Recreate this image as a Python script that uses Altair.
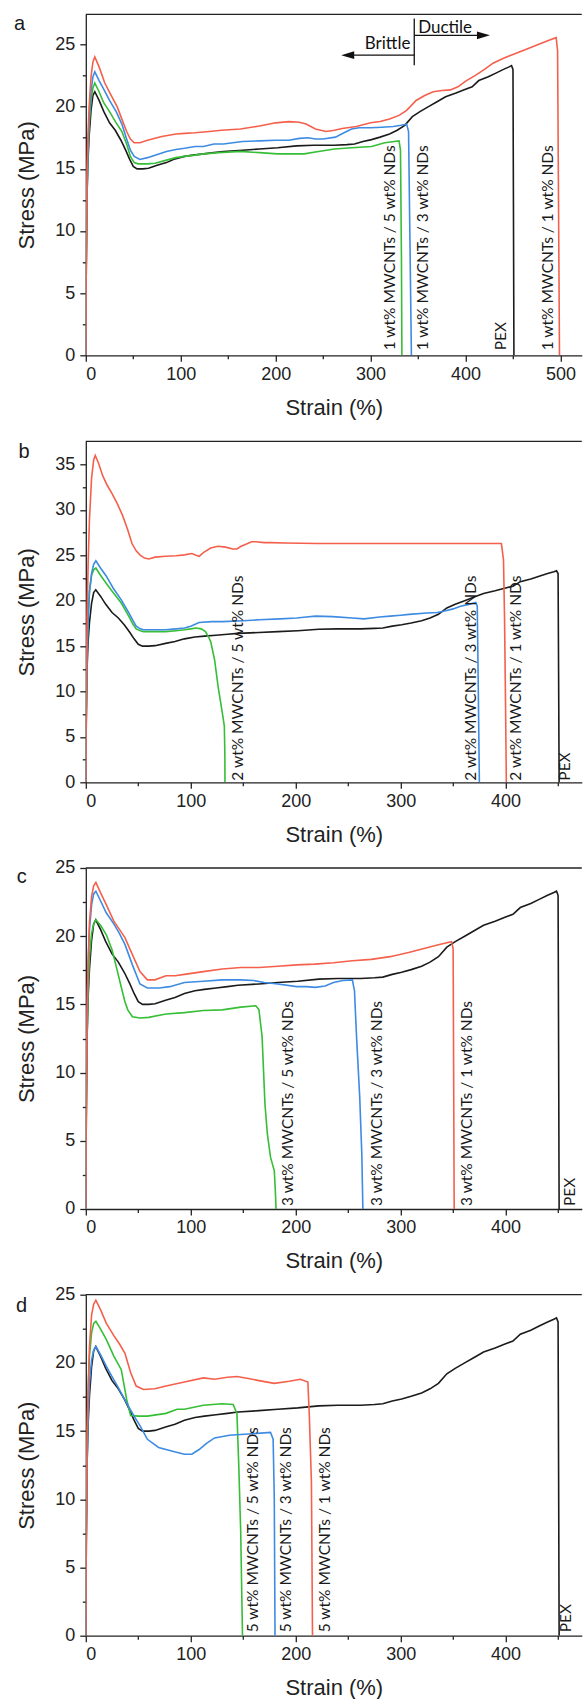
import altair as alt
import pandas as pd

RED = "#f4604c"
BLUE = "#3d8be2"
GREEN = "#36be36"
BLACK = "#1b1b1b"

SERIES = ["pex", "green", "blue", "red"]
COLORS = [BLACK, GREEN, BLUE, RED]

# ---------------- PEX (same reference curve in every panel) ----------------
pex_x = [0, 0.5, 1.2, 2.2, 3.5, 5.5, 7.5, 9.5, 14, 19, 25, 31, 37, 42, 46, 50, 54, 60, 66, 76, 85,
         94, 104, 113, 124, 135, 145, 165, 183, 202, 222, 240, 262, 275, 283, 292, 301, 310, 320,
         328, 336, 344, 352, 361, 370, 379, 390, 400, 407, 414, 424, 432, 440, 446, 448.5, 450,
         450.5, 451]
pex_y = [0, 7, 12.5, 15.5, 17.6, 19.7, 20.9, 21.2, 20.5, 19.6, 18.7, 18.1, 17.3, 16.5, 15.8, 15.2,
         15.0, 15.0, 15.05, 15.3, 15.5, 15.8, 16.0, 16.1, 16.2, 16.3, 16.4, 16.5, 16.6, 16.7, 16.85,
         16.9, 16.9, 16.95, 17.0, 17.2, 17.35, 17.55, 17.8, 18.1, 18.5, 19.2, 19.6, 20.0, 20.4, 20.8,
         21.1, 21.4, 21.6, 22.1, 22.4, 22.7, 23.0, 23.2, 23.3, 23.0, 12, 0]

# ---------------- panel a : 1 wt% MWCNTs ----------------
a_red_x = [0, 0.5, 1.2, 2.2, 3.5, 5.5, 7.5, 9.5, 14, 20, 26, 33, 38, 43, 47, 51, 57, 65, 80, 95, 104,
           115, 130, 143, 163, 183, 200, 214, 225, 232, 242, 253, 262, 270, 285, 300, 310, 320, 330,
           338, 348, 357, 366, 375, 384, 392, 401, 410, 420, 429, 440, 450, 460, 470, 480, 490,
           495.5, 497, 498, 499]
a_red_y = [0, 8, 14, 17.5, 20, 22.4, 23.6, 24.0, 23.2, 21.9, 21.0, 20.0, 19.0, 18.0, 17.4, 17.1, 17.1,
           17.3, 17.6, 17.8, 17.85, 17.9, 18.0, 18.1, 18.2, 18.45, 18.7, 18.8, 18.75, 18.6, 18.2,
           18.0, 18.1, 18.25, 18.4, 18.7, 18.8, 19.0, 19.3, 19.7, 20.5, 20.9, 21.2, 21.3, 21.35,
           21.6, 22.1, 22.5, 23.0, 23.5, 23.9, 24.2, 24.5, 24.8, 25.1, 25.4, 25.55, 24.5, 12, 0]
a_blue_x = [0, 0.5, 1.2, 2.2, 3.5, 5.5, 7.5, 9.5, 14, 19, 25, 32, 38, 43, 47, 51, 57, 65, 73, 85, 95,
            104, 115, 124, 135, 145, 165, 183, 200, 214, 225, 234, 242, 250, 263, 272, 280, 288,
            300, 312, 324, 332, 338, 340, 341.5, 343]
a_blue_y = [0, 7.5, 13, 16.5, 19, 21.2, 22.4, 22.8, 22.1, 21.4, 20.5, 19.6, 18.6, 17.4, 16.5, 16.0,
            15.75, 15.9, 16.1, 16.4, 16.55, 16.65, 16.8, 16.8, 17.0, 17.0, 17.2, 17.25, 17.3, 17.3,
            17.45, 17.5, 17.4, 17.4, 17.55, 17.9, 18.2, 18.3, 18.3, 18.35, 18.4, 18.5, 18.6, 18.0,
            9, 0]
a_green_x = [0, 0.5, 1.2, 2.2, 3.5, 5.5, 7.5, 9.5, 14, 19, 25, 32, 38, 43, 47, 51, 55, 65, 73, 85,
             95, 104, 115, 124, 140, 163, 183, 202, 220, 230, 245, 262, 280, 301, 315, 325, 330,
             331.5, 332.5, 333]
a_green_y = [0, 7, 12.5, 16, 18.5, 20.5, 21.5, 21.9, 21.2, 20.3, 19.6, 18.7, 18.0, 17.0, 16.0, 15.5,
             15.4, 15.4, 15.45, 15.7, 15.9, 16.0, 16.1, 16.2, 16.3, 16.4, 16.3, 16.2, 16.2, 16.2,
             16.4, 16.6, 16.7, 16.8, 17.1, 17.2, 17.25, 16.5, 8, 0]
a_label_x = [320, 355.6, 437.6, 487]
a_label_text = ["1 wt% MWCNTs / 5 wt% NDs", "1 wt% MWCNTs / 3 wt% NDs", "PEX",
                "1 wt% MWCNTs / 1 wt% NDs"]

# Brittle / Ductile annotation (panel a)
div_x = [346]
div_y = [23.33]
div_y2 = [27.1]
arrow_x = [346, 346]
arrow_x2 = [419, 276]
arrow_y = [25.74, 24.14]
head_x = [418.9, 275.9]
head_y = [25.74, 24.14]
head_dir = ["right", "left"]
note_text = ["Ductile", "Brittle"]
note_x = [350.2, 342.0]
note_y = [26.36, 25.08]
note_align = ["left", "right"]

# ---------------- panel b : 2 wt% MWCNTs ----------------
b_red_x = [0, 0.5, 1.2, 2.2, 3.5, 5.5, 7.5, 9, 12, 16, 20, 25, 30, 35, 40, 44, 48, 52, 56, 60, 66,
           76, 86, 94, 101, 105, 108, 112, 119, 126, 133, 140, 144, 148, 152, 158, 162, 170, 176,
           190, 220, 260, 300, 340, 380, 396, 398, 399, 400, 400.7]
b_red_y = [0, 10, 18, 24, 29, 33.5, 35.5, 36.0, 35.2, 33.8, 32.8, 31.8, 30.7, 29.4, 27.8, 26.3, 25.5,
           25.0, 24.7, 24.6, 24.8, 24.9, 24.95, 25.05, 25.2, 25.0, 24.9, 25.3, 25.8, 26.0, 25.9,
           25.7, 25.7, 26.0, 26.2, 26.5, 26.5, 26.4, 26.4, 26.35, 26.3, 26.3, 26.3, 26.3, 26.3,
           26.3, 24.5, 18, 8, 0]
b_blue_x = [0, 0.5, 1.2, 2.2, 3.5, 5.5, 7.5, 9.6, 14, 19.6, 26, 33.8, 40.9, 45, 48, 52, 55, 65, 76,
            86, 94, 100, 108, 120, 130, 150, 165, 185, 201, 210, 219, 235, 254, 265, 280, 290, 300,
            308, 325, 335, 343, 350, 357, 365, 371.6, 373, 374, 375]
b_blue_y = [0, 8, 14, 18, 21, 23, 24, 24.4, 23.6, 22.7, 21.4, 20.1, 18.7, 17.8, 17.2, 16.9, 16.8,
            16.8, 16.8, 16.9, 17.0, 17.2, 17.6, 17.7, 17.7, 17.8, 17.9, 18.0, 18.1, 18.2, 18.3,
            18.25, 18.1, 18.0, 18.2, 18.3, 18.4, 18.5, 18.65, 18.7, 18.9, 19.1, 19.4, 19.6, 19.8,
            19.4, 10, 0]
b_green_x = [0, 0.5, 1.2, 2.2, 3.5, 5.5, 7.5, 9.6, 14, 19.6, 26, 33.8, 40.9, 45, 48, 52, 55, 65, 76,
             86, 94, 100, 105, 110, 114, 117, 119, 122.7, 126, 130, 132, 132.5, 132.6]
b_green_y = [0, 8, 14, 18, 21, 22.8, 23.4, 23.6, 22.8, 21.9, 20.9, 19.75, 18.3, 17.4, 16.9, 16.7,
             16.6, 16.6, 16.6, 16.7, 16.8, 16.9, 17.0, 16.9, 16.6, 16.0, 15.5, 13.5, 10.6, 7.7, 6.2,
             3, 0]
b_label_x = [144.7, 367, 409.6, 457]
b_label_text = ["2 wt% MWCNTs / 5 wt% NDs", "2 wt% MWCNTs / 3 wt% NDs",
                "2 wt% MWCNTs / 1 wt% NDs", "PEX"]

# ---------------- panel c : 3 wt% MWCNTs ----------------
c_red_x = [0, 0.5, 1.2, 2.2, 3.5, 5.5, 7.5, 9.6, 14, 19.6, 26.7, 32, 37.3, 44.4, 51.6, 58.7, 65.8,
           76.4, 85, 94, 112, 130, 147.6, 165, 183, 201, 218, 236, 254, 272, 290, 307.6, 325, 335,
           343, 348.4, 350, 350.5, 351]
c_red_y = [0, 8, 14, 18, 21, 22.9, 23.7, 23.95, 23.2, 22.3, 21.1, 20.5, 19.9, 18.65, 17.4, 16.8,
           16.8, 17.1, 17.1, 17.2, 17.4, 17.6, 17.7, 17.7, 17.8, 17.9, 17.95, 18.05, 18.2, 18.3,
           18.5, 18.8, 19.15, 19.35, 19.5, 19.6, 19.1, 10, 0]
c_blue_x = [0, 0.5, 1.2, 2.2, 3.5, 5.5, 7.5, 9.6, 14, 19.6, 26.7, 32, 37.3, 44.4, 51.6, 58.7, 70,
            80, 94, 112, 130, 147.6, 160, 170, 183, 201, 210, 218.7, 228, 236, 245, 254, 256, 258,
            261, 263, 264]
c_blue_y = [0, 8, 14, 18, 20.5, 22.3, 23.1, 23.3, 22.6, 21.7, 20.9, 20.2, 19.4, 17.9, 16.5, 16.2,
            16.2, 16.3, 16.6, 16.7, 16.8, 16.8, 16.75, 16.6, 16.5, 16.3, 16.3, 16.25, 16.35, 16.6,
            16.75, 16.8, 16.0, 12.6, 8.2, 4, 0]
c_green_x = [0, 0.5, 1.2, 2.2, 3.5, 5.5, 7.5, 9.6, 14, 19.6, 25, 30.2, 34, 37.3, 40, 44.4, 51.6, 60,
             76.4, 94, 112, 130, 147.6, 162, 165, 168, 170.7, 173, 176, 179.6, 180.5, 181.3]
c_green_y = [0, 7, 12.5, 16, 18.5, 20.2, 20.9, 21.2, 20.8, 20.1, 19.0, 17.4, 16.2, 15.2, 14.6, 14.1,
             14.0, 14.05, 14.3, 14.4, 14.55, 14.6, 14.8, 14.9, 14.6, 12.6, 7.7, 5.5, 3.8, 2.8, 1.5,
             0]
c_label_x = [192.7, 277, 363.4, 461]
c_label_text = ["3 wt% MWCNTs / 5 wt% NDs", "3 wt% MWCNTs / 3 wt% NDs",
                "3 wt% MWCNTs / 1 wt% NDs", "PEX"]

# ---------------- panel d : 5 wt% MWCNTs ----------------
d_red_x = [0, 0.5, 1.2, 2.2, 3.5, 5.5, 7.5, 9.6, 14, 19.6, 26.7, 32, 37.3, 42.7, 48, 55, 65.8, 76.4,
           94, 112, 122.7, 135, 144, 155, 165, 179.6, 193.8, 204.4, 211.6, 213, 215, 216]
d_red_y = [0, 8, 14, 18, 21.2, 23.5, 24.3, 24.6, 23.9, 22.9, 22.0, 21.4, 20.7, 19.3, 18.3, 18.05,
           18.1, 18.3, 18.6, 18.9, 18.8, 18.95, 19.0, 18.85, 18.7, 18.5, 18.65, 18.8, 18.6, 16.1,
           11.2, 0]
d_blue_x = [0, 0.5, 1.2, 2.2, 3.5, 5.5, 7.5, 9.6, 14, 19.6, 25, 30.2, 35, 40.9, 46, 51.6, 58.7, 69.3,
            83.6, 94, 101, 108, 115, 122.7, 136.9, 158, 176, 178.5, 179.6, 180.3]
d_blue_y = [0, 7, 12.5, 16, 18.5, 20.2, 20.9, 21.2, 20.6, 19.75, 19.0, 18.3, 17.6, 16.8, 16.1, 15.4,
            14.4, 13.8, 13.5, 13.3, 13.3, 13.65, 14.1, 14.5, 14.7, 14.8, 14.9, 14.4, 10.0, 0]
d_green_x = [0, 0.5, 1.2, 2.2, 3.5, 5.5, 7.5, 9.6, 14, 19.6, 26.7, 33.8, 39, 42.7, 50, 58.7, 76.4, 87,
             94, 112, 130, 140.4, 144, 145.8, 147.6, 149.3]
d_green_y = [0, 8, 14, 18, 20.5, 22.2, 22.9, 23.05, 22.5, 21.7, 20.5, 19.5, 17.3, 16.15, 16.1, 16.1,
             16.3, 16.6, 16.6, 16.9, 17.0, 16.95, 16.3, 12.4, 7.6, 0]
d_label_x = [159, 191, 228, 457.6]
d_label_text = ["5 wt% MWCNTs / 5 wt% NDs", "5 wt% MWCNTs / 3 wt% NDs",
                "5 wt% MWCNTs / 1 wt% NDs", "PEX"]

letters = ["a", "b", "c", "d"]

# ---------------- layout constants ----------------
PLOT_W = 496
PLOT_H = 341
LABEL_FONT = "Lato"
AX_FONT = "Liberation Sans"


def curves_df(rows):
    frames = []
    for name, xs, ys in rows:
        frames.append(pd.DataFrame({"strain": xs, "stress": ys, "series": name,
                                    "idx": list(range(len(xs)))}))
    return pd.concat(frames, ignore_index=True)


def panel(rows, label_x, label_text, label_y, xmax, ymax, ymajor_top, xminor_top,
          letter, letter_dx, letter_dy, extra=None):
    x_axis = alt.Axis(
        values=[v for v in range(0, xminor_top + 1, 50)],
        labelExpr="datum.value % 100 === 0 ? datum.label : ''",
        tickSize={"condition": {"test": "datum.value % 100 !== 0", "value": 3.5}, "value": 6},
        title="Strain (%)", labelPadding=4, titlePadding=14,
    )
    yv = []
    v = 0.0
    while v <= ymajor_top + 1e-9:
        yv.append(round(v, 1))
        v += 2.5
    y_axis = alt.Axis(
        values=yv,
        labelExpr="datum.value % 5 === 0 ? datum.label : ''",
        tickSize={"condition": {"test": "datum.value % 5 !== 0", "value": 3.5}, "value": 6},
        title="Stress (MPa)", labelPadding=5, titlePadding=16.6,
    )
    xs = alt.Scale(domain=[0, xmax], nice=False, zero=False)
    ys = alt.Scale(domain=[0, ymax], nice=False, zero=False)
    X = alt.X("strain:Q", scale=xs, axis=x_axis)
    Y = alt.Y("stress:Q", scale=ys, axis=y_axis)

    lines = alt.Chart(curves_df(rows)).mark_line(strokeWidth=1.6, clip=True).encode(
        x=X, y=Y,
        color=alt.Color("series:N", scale=alt.Scale(domain=SERIES, range=COLORS), legend=None),
        order=alt.Order("idx:Q"),
    )
    lab_df = pd.DataFrame({"strain": label_x, "stress": [label_y] * len(label_x),
                           "text": label_text})
    labels = alt.Chart(lab_df).mark_text(
        angle=270, align="left", baseline="middle", font=LABEL_FONT, fontSize=15.5,
        color="#1a1a1a",
    ).encode(x=X, y=Y, text="text:N")
    top = alt.Chart(pd.DataFrame({"stress": [ymax]})).mark_rule(
        color="#222", strokeWidth=1.3).encode(y=Y)
    let = alt.Chart(pd.DataFrame({"t": [letter]})).mark_text(
        align="left", baseline="alphabetic", font=AX_FONT, fontSize=20, color="#1a1a1a"
    ).encode(x=alt.value(letter_dx), y=alt.value(letter_dy), text="t:N")
    layers = [top, lines, labels, let]
    if extra is not None:
        layers += extra(X, Y)
    return alt.layer(*layers).properties(width=PLOT_W, height=PLOT_H)


def brittle_ductile(X, Y):
    div = alt.Chart(pd.DataFrame({"strain": div_x, "stress": div_y, "stress2": div_y2})).mark_rule(
        color="#111", strokeWidth=1.3).encode(x=X, y=Y, y2="stress2:Q")
    arr = alt.Chart(pd.DataFrame({"strain": arrow_x, "strain2": arrow_x2, "stress": arrow_y})).mark_rule(
        color="#111", strokeWidth=1.3).encode(x=X, x2="strain2:Q", y=Y)
    hd = pd.DataFrame({"strain": head_x, "stress": head_y, "dir": head_dir})
    right = alt.Chart(hd[hd["dir"] == "right"]).mark_point(
        shape="M 1 0 L -1 -0.6 L -1 0.6 Z", filled=True, size=169, color="#111", opacity=1
    ).encode(x=X, y=Y)
    left = alt.Chart(hd[hd["dir"] == "left"]).mark_point(
        shape="M -1 0 L 1 -0.6 L 1 0.6 Z", filled=True, size=169, color="#111", opacity=1
    ).encode(x=X, y=Y)
    nd = pd.DataFrame({"strain": note_x, "stress": note_y, "text": note_text, "al": note_align})
    t_r = alt.Chart(nd[nd["al"] == "left"]).mark_text(
        align="left", baseline="middle", font=LABEL_FONT, fontSize=17, color="#111"
    ).encode(x=X, y=Y, text="text:N")
    t_l = alt.Chart(nd[nd["al"] == "right"]).mark_text(
        align="right", baseline="middle", font=LABEL_FONT, fontSize=17, color="#111"
    ).encode(x=X, y=Y, text="text:N")
    return [div, arr, right, left, t_r, t_l]


pa = panel([("pex", pex_x, pex_y), ("green", a_green_x, a_green_y), ("blue", a_blue_x, a_blue_y),
            ("red", a_red_x, a_red_y)],
           a_label_x, a_label_text, 0.4, 522.5, 27.43, 25, 500, letters[0], -71.7, 15.3,
           extra=brittle_ductile)
pb = panel([("pex", pex_x, pex_y), ("green", b_green_x, b_green_y), ("blue", b_blue_x, b_blue_y),
            ("red", b_red_x, b_red_y)],
           b_label_x, b_label_text, 0.18, 472.6, 37.56, 35, 450, letters[1], -67.2, 16.6)
pc = panel([("pex", pex_x, pex_y), ("green", c_green_x, c_green_y), ("blue", c_blue_x, c_blue_y),
            ("red", c_red_x, c_red_y)],
           c_label_x, c_label_text, 0.22, 472.6, 25, 25, 450, letters[2], -69, 15.3)
pd_ = panel([("pex", pex_x, pex_y), ("green", d_green_x, d_green_y), ("blue", d_blue_x, d_blue_y),
             ("red", d_red_x, d_red_y)],
            d_label_x, d_label_text, 0.25, 472.6, 25, 25, 450, letters[3], -69.8, 17.7)

# panels c and d carry a "25" label right at their top edge, which sticks out above the
# plot; the gaps in front of them are shortened by that overhang.
GAP = 22
OVERHANG = 8.3
upper = alt.vconcat(pa, pb, spacing=GAP)
lower = alt.vconcat(pc, pd_, spacing=GAP - OVERHANG)

chart = alt.vconcat(upper, lower, spacing=GAP - OVERHANG).properties(
    padding={"left": 13.8, "top": 13.3, "right": 0, "bottom": 0},
    background="white",
).configure_view(stroke=None).configure_axis(
    grid=False, domainColor="#222", domainWidth=1.3, tickColor="#222", tickWidth=1.3,
    labelFont=AX_FONT, labelFontSize=18, labelColor="#222",
    titleFont=AX_FONT, titleFontSize=22, titleFontWeight="normal", titleColor="#222",
)

chart.save("out.html", embed_options={"renderer": "svg", "actions": False})
